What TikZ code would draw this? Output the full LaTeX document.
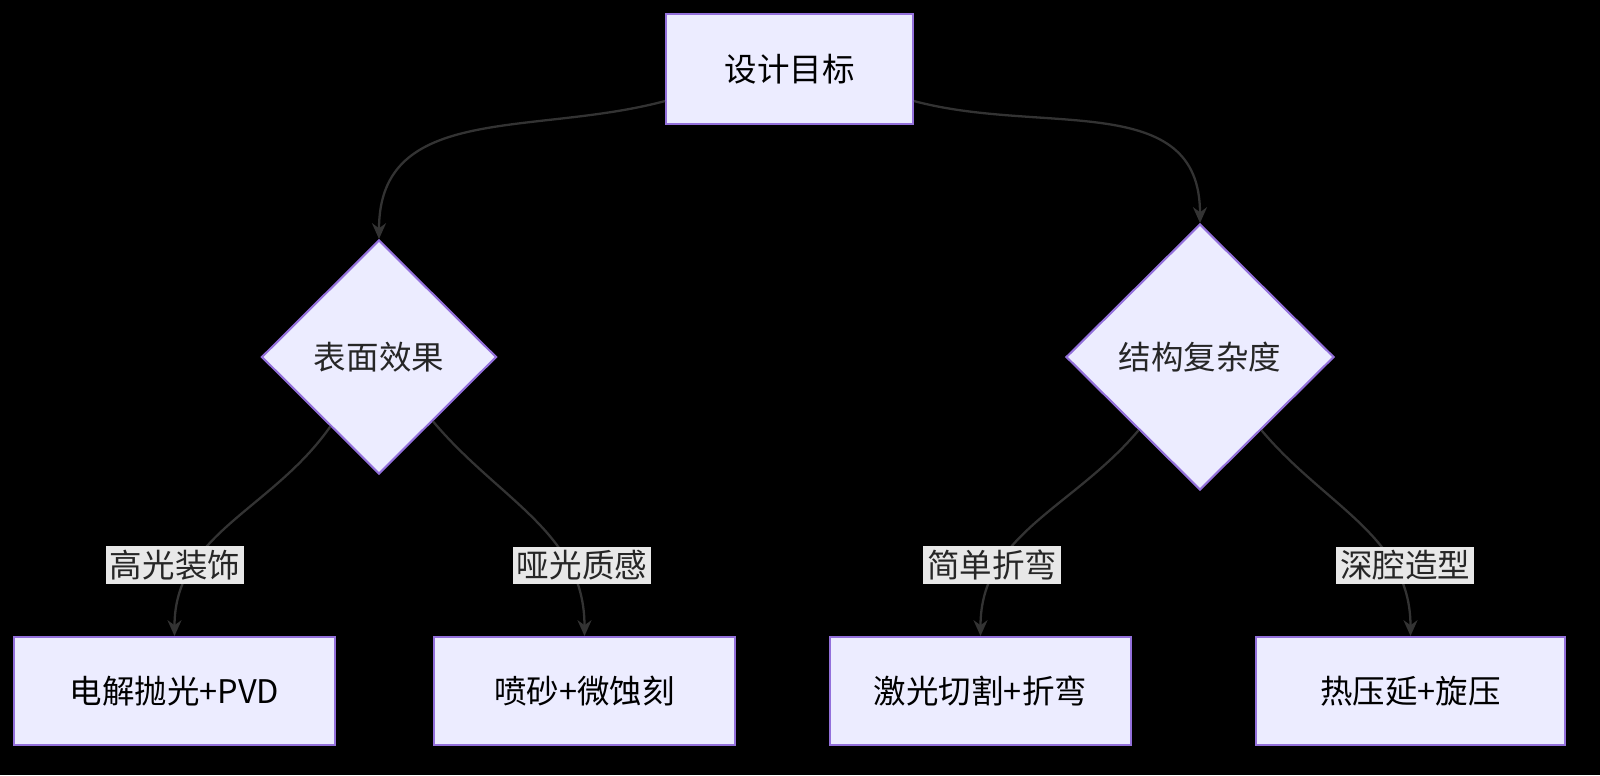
\documentclass[tikz,border=0pt]{standalone}
\usepackage{fontspec}
\setmainfont{Noto Sans CJK SC}
\usetikzlibrary{shapes.geometric,arrows.meta}
\definecolor{nfill}{HTML}{ECECFF}
\definecolor{nline}{HTML}{9370DB}
\definecolor{eline}{HTML}{333333}
\definecolor{lbg}{HTML}{E8E8E8}
\begin{document}
\begin{tikzpicture}[x=0.02cm,y=-0.02cm,
  box/.style={draw=nline,fill=nfill,line width=1.2pt,inner sep=0pt,font=\fontsize{18.5}{20}\selectfont},
  dia/.style={diamond,draw=nline,fill=nfill,line width=1.2pt,inner sep=0pt},
  txt/.style={font=\fontsize{18.5}{20}\selectfont,text=black!85},
  lab/.style={fill=lbg,inner sep=2pt,font=\fontsize{18.5}{20}\selectfont,text=black!85},
  edge/.style={draw=eline,line width=1.3pt,-{Stealth[length=9pt,width=8pt]}}]
\fill[black] (0,0) rectangle (1600,775);
\useasboundingbox (0,0) rectangle (1600,775);
\node[box,minimum width=4.94cm,minimum height=2.2cm] (top) at (789.5,69) {设计目标};
\node[dia,minimum width=4.7cm,minimum height=4.68cm] (d1) at (379,357) {};
\node[txt] (t1) at (d1) {表面效果};
\node[dia,minimum width=5.36cm,minimum height=5.32cm] (d2) at (1200,357) {};
\node[txt] (t2) at (d2) {结构复杂度};
\node[box,minimum width=6.42cm,minimum height=2.16cm] (b1) at (174.5,691) {电解抛光+PVD};
\node[box,minimum width=6.02cm,minimum height=2.16cm] (b2) at (584.5,691) {喷砂+微蚀刻};
\node[box,minimum width=6.02cm,minimum height=2.16cm] (b3) at (980.5,691) {激光切割+折弯};
\node[box,minimum width=6.18cm,minimum height=2.16cm] (b4) at (1410.5,691) {热压延+旋压};
\draw[edge] (top.south west) ++(0,-24) to[out=195,in=90,looseness=1.1] (d1.north);
\draw[edge] (top.south east) ++(0,-24) to[out=-15,in=90,looseness=1.1] (d2.north);
\draw[edge] (d1) to[out=-125,in=90] (b1.north);
\draw[edge] (d1) to[out=-50,in=90] (b2.north);
\draw[edge] (d2) to[out=-130,in=90] (b3.north);
\draw[edge] (d2) to[out=-50,in=90] (b4.north);
\node[lab] (l1) at (175,565) {高光装饰};
\node[lab] (l2) at (582,565) {哑光质感};
\node[lab] (l3) at (992,565) {简单折弯};
\node[lab] (l4) at (1405,565) {深腔造型};
\end{tikzpicture}
\end{document}
